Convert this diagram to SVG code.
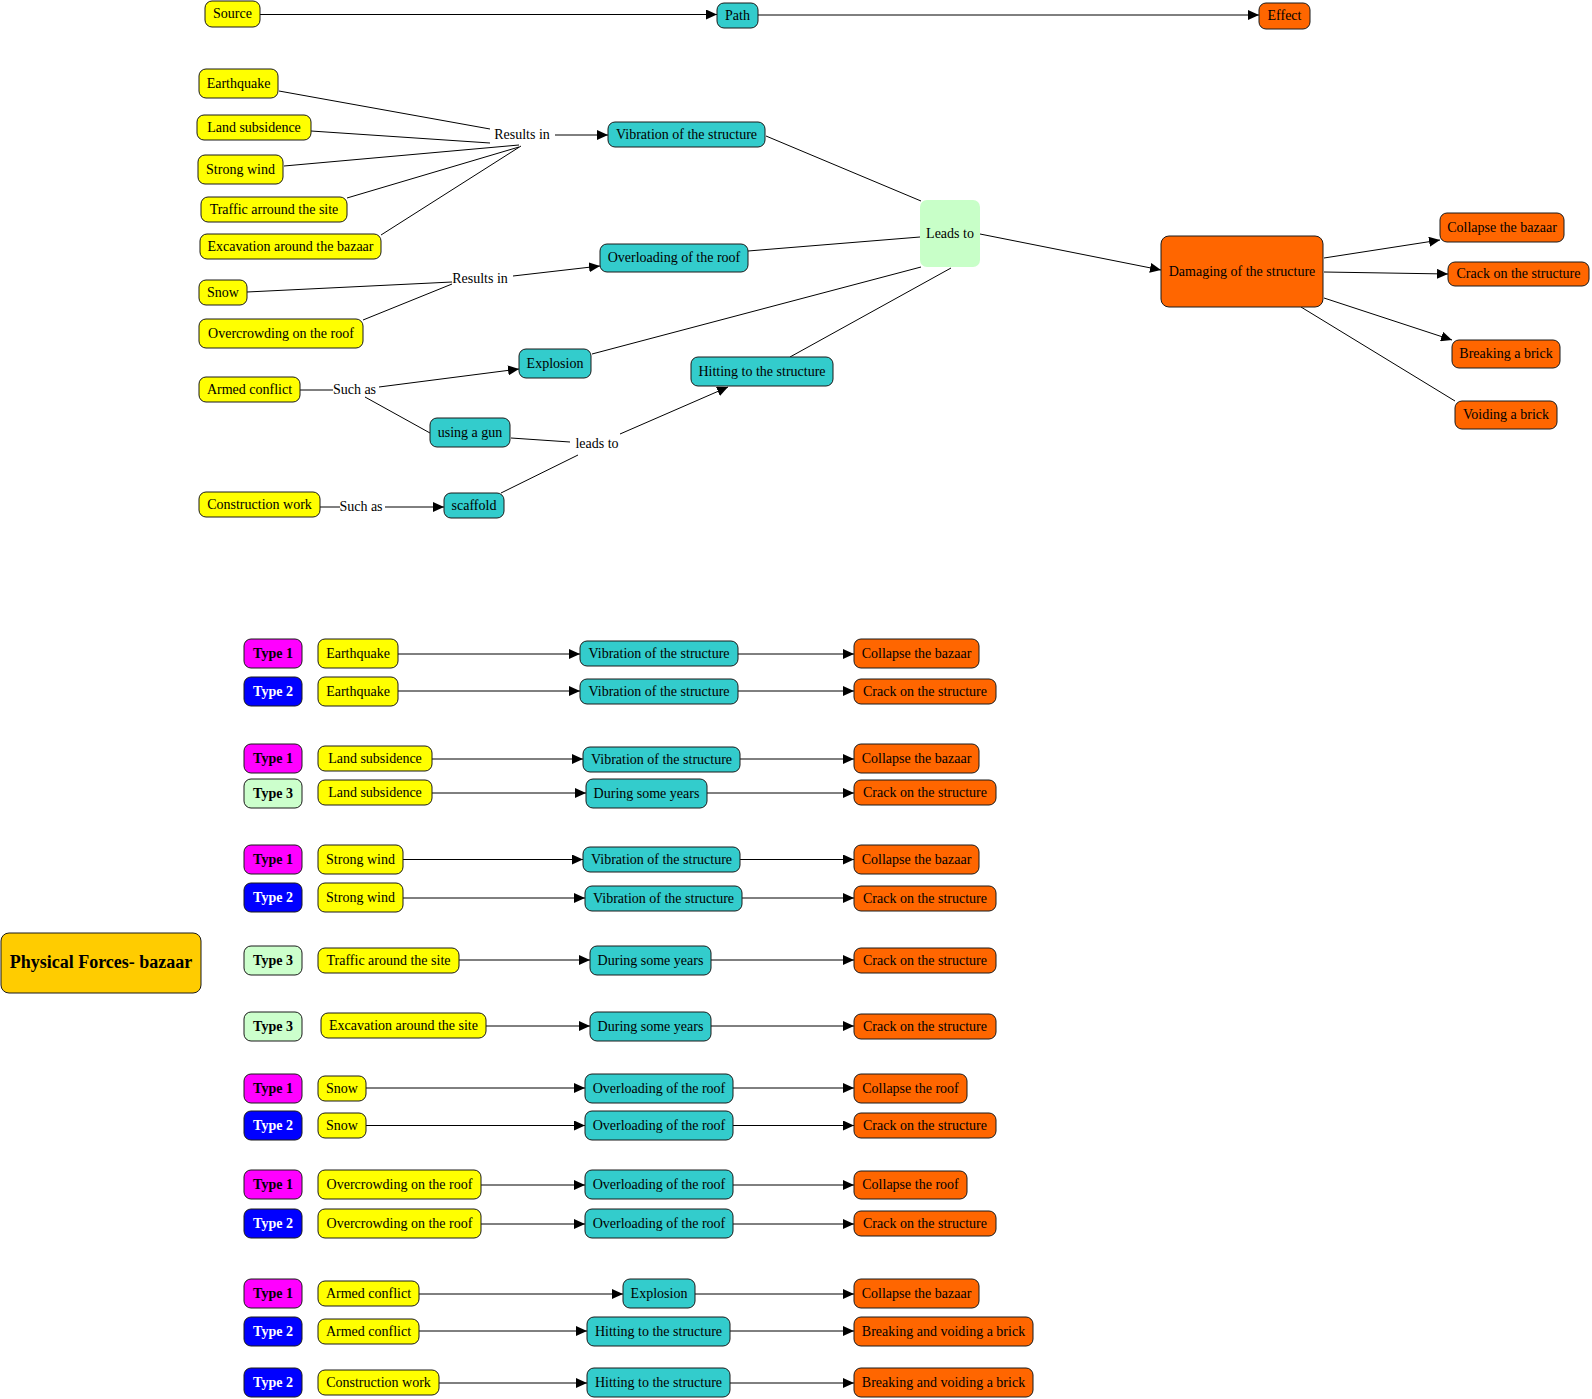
<svg xmlns="http://www.w3.org/2000/svg" width="1592" height="1399" viewBox="0 0 1592 1399">
<style>
rect{stroke:#1a1a1a;stroke-width:1}
rect.bg{fill:#fff;stroke:none}
.y{fill:#FFFF00}.t{fill:#33CCCC}.o{fill:#FF6600}.m{fill:#FF00FF}.b{fill:#0000FF}.g{fill:#CCFFCC}.pf{fill:#FFCC00}
.lg{fill:#C8FFC8;stroke:none}
text{font-family:"Liberation Serif","Times New Roman",serif;font-size:14px;text-anchor:middle;fill:#000;transform:translate(0px,-1px)}
.bd{font-weight:bold}.w{fill:#fff}.big{font-size:18px;font-weight:bold}
#connectors line{stroke:#000;stroke-width:1;fill:none}
#connectors .a{marker-end:url(#arr)}
</style>
<defs>
<marker id="arr" markerUnits="userSpaceOnUse" markerWidth="11" markerHeight="10" refX="11" refY="5" orient="auto"><path d="M0,0 L11,5 L0,10 z" fill="#000"/></marker>
</defs>
<rect class="bg" x="0" y="0" width="1592" height="1399"/>
<g id="connectors">
<line class="a" x1="260" y1="14.5" x2="717" y2="14.5"/>
<line class="a" x1="758" y1="15" x2="1259" y2="15"/>
<line x1="279" y1="91" x2="490" y2="129"/>
<line x1="311" y1="131" x2="490" y2="143"/>
<line x1="284" y1="166" x2="519" y2="145"/>
<line x1="347" y1="198" x2="519" y2="147"/>
<line x1="381" y1="235" x2="521" y2="146"/>
<line class="a" x1="555" y1="135" x2="608" y2="135"/>
<line x1="766" y1="136" x2="921" y2="201"/>
<line x1="247" y1="292" x2="452" y2="282"/>
<line x1="363" y1="320" x2="452" y2="284"/>
<line class="a" x1="513" y1="276" x2="600" y2="266"/>
<line x1="748" y1="251" x2="920" y2="237"/>
<line x1="300" y1="390" x2="333" y2="390"/>
<line class="a" x1="379" y1="387" x2="519" y2="369"/>
<line x1="365" y1="397" x2="430" y2="433"/>
<line x1="511" y1="438" x2="570" y2="442"/>
<line class="a" x1="620" y1="434" x2="728" y2="387"/>
<line x1="501" y1="493" x2="578" y2="455"/>
<line x1="320" y1="507" x2="340" y2="507"/>
<line class="a" x1="385" y1="507" x2="444" y2="507"/>
<line x1="592" y1="354" x2="921" y2="267"/>
<line x1="790" y1="357" x2="951" y2="268"/>
<line class="a" x1="980" y1="234" x2="1161" y2="270"/>
<line class="a" x1="1324" y1="258" x2="1440" y2="240"/>
<line class="a" x1="1324" y1="272" x2="1448" y2="274"/>
<line class="a" x1="1324" y1="298" x2="1452" y2="340"/>
<line x1="1301" y1="307" x2="1455" y2="401"/>
<line class="a" x1="398" y1="654" x2="580" y2="654"/><line class="a" x1="738" y1="654" x2="854" y2="654"/>
<line class="a" x1="398" y1="691" x2="580" y2="691"/><line class="a" x1="738" y1="691" x2="854" y2="691"/>
<line class="a" x1="432" y1="759" x2="583" y2="759"/><line class="a" x1="740" y1="759" x2="854" y2="759"/>
<line class="a" x1="432" y1="793" x2="586" y2="793"/><line class="a" x1="707" y1="793" x2="854" y2="793"/>
<line class="a" x1="403" y1="859.5" x2="583" y2="859.5"/><line class="a" x1="740" y1="859.5" x2="854" y2="859.5"/>
<line class="a" x1="403" y1="898" x2="585" y2="898"/><line class="a" x1="742" y1="898" x2="854" y2="898"/>
<line class="a" x1="459" y1="960" x2="590" y2="960"/><line class="a" x1="711" y1="960" x2="854" y2="960"/>
<line class="a" x1="486" y1="1026" x2="590" y2="1026"/><line class="a" x1="711" y1="1026" x2="854" y2="1026"/>
<line class="a" x1="366" y1="1088" x2="585" y2="1088"/><line class="a" x1="733" y1="1088" x2="854" y2="1088"/>
<line class="a" x1="366" y1="1125.5" x2="585" y2="1125.5"/><line class="a" x1="733" y1="1125.5" x2="854" y2="1125.5"/>
<line class="a" x1="481" y1="1185" x2="585" y2="1185"/><line class="a" x1="733" y1="1185" x2="854" y2="1185"/>
<line class="a" x1="481" y1="1224" x2="585" y2="1224"/><line class="a" x1="733" y1="1224" x2="854" y2="1224"/>
<line class="a" x1="419" y1="1294" x2="623" y2="1294"/><line class="a" x1="695" y1="1294" x2="854" y2="1294"/>
<line class="a" x1="419" y1="1331" x2="587" y2="1331"/><line class="a" x1="730" y1="1331" x2="854" y2="1331"/>
<line class="a" x1="439" y1="1383" x2="587" y2="1383"/><line class="a" x1="730" y1="1383" x2="854" y2="1383"/>
</g>
<g id="labels">
<text x="522" y="140">Results in</text>
<text x="480" y="284">Results in</text>
<text x="354.5" y="395">Such as</text>
<text x="597" y="449">leads to</text>
<text x="361" y="512">Such as</text>
</g>
<g id="n-source"><rect class="y" x="205" y="1" width="55" height="26" rx="7"/><text x="232.5" y="19">Source</text></g>
<g id="n-path"><rect class="t" x="717" y="3" width="41" height="25" rx="7"/><text x="737.5" y="20.5">Path</text></g>
<g id="n-effect"><rect class="o" x="1259" y="3" width="51" height="26" rx="7"/><text x="1284.5" y="21">Effect</text></g>
<g id="n-earthquake"><rect class="y" x="199" y="69" width="79" height="29" rx="7"/><text x="238.5" y="88.5">Earthquake</text></g>
<g id="n-landsub"><rect class="y" x="197" y="115" width="114" height="25" rx="7"/><text x="254" y="132.5">Land subsidence</text></g>
<g id="n-strongwind"><rect class="y" x="198" y="155" width="85" height="29" rx="7"/><text x="240.5" y="174.5">Strong wind</text></g>
<g id="n-traffic"><rect class="y" x="201" y="197" width="146" height="25" rx="7"/><text x="274" y="214.5">Traffic arround the site</text></g>
<g id="n-excavation"><rect class="y" x="200" y="234" width="181" height="25" rx="7"/><text x="290.5" y="251.5">Excavation around the bazaar</text></g>
<g id="n-vibration"><rect class="t" x="608" y="122" width="157" height="25" rx="7"/><text x="686.5" y="139.5">Vibration of the structure</text></g>
<g id="n-snow"><rect class="y" x="199" y="280" width="48" height="25" rx="7"/><text x="223" y="297.5">Snow</text></g>
<g id="n-overcrowding"><rect class="y" x="199" y="319" width="164" height="29" rx="7"/><text x="281" y="338.5">Overcrowding on the roof</text></g>
<g id="n-overloading"><rect class="t" x="600" y="244" width="148" height="28" rx="7"/><text x="674" y="263">Overloading of the roof</text></g>
<g id="n-armed"><rect class="y" x="199" y="377" width="101" height="25" rx="7"/><text x="249.5" y="394.5">Armed conflict</text></g>
<g id="n-explosion"><rect class="t" x="519" y="349" width="72" height="29" rx="7"/><text x="555" y="368.5">Explosion</text></g>
<g id="n-gun"><rect class="t" x="430" y="418" width="80" height="29" rx="7"/><text x="470" y="437.5">using a gun</text></g>
<g id="n-hitting"><rect class="t" x="691" y="357" width="142" height="29" rx="7"/><text x="762" y="376.5">Hitting to the structure</text></g>
<g id="n-construction"><rect class="y" x="199" y="492" width="121" height="25" rx="7"/><text x="259.5" y="509.5">Construction work</text></g>
<g id="n-scaffold"><rect class="t" x="444" y="493" width="60" height="25" rx="7"/><text x="474" y="510.5">scaffold</text></g>
<g id="n-leads"><rect class="lg" x="920" y="200" width="60" height="67" rx="7"/><text x="950" y="238.5">Leads to</text></g>
<g id="n-damaging"><rect class="o" x="1161" y="236" width="162" height="71" rx="8"/><text x="1242" y="276.5">Damaging of the structure</text></g>
<g id="n-collapse"><rect class="o" x="1440" y="213" width="124" height="29" rx="7"/><text x="1502" y="232.5">Collapse the bazaar</text></g>
<g id="n-crack"><rect class="o" x="1448" y="262" width="141" height="24" rx="7"/><text x="1518.5" y="279">Crack on the structure</text></g>
<g id="n-breaking"><rect class="o" x="1452" y="340" width="108" height="28" rx="7"/><text x="1506" y="359">Breaking a brick</text></g>
<g id="n-voiding"><rect class="o" x="1455" y="401" width="102" height="28" rx="7"/><text x="1506" y="420">Voiding a brick</text></g>
<g id="n-physical"><rect class="pf" x="1" y="933" width="200" height="60" rx="8"/><text class="big" x="101" y="969">Physical Forces- bazaar</text></g>
<g id="r1-type"><rect class="m" x="244" y="639" width="58" height="29" rx="7"/><text class="bd" x="273" y="658.5">Type 1</text></g>
<g id="r1-src"><rect class="y" x="318" y="639" width="80" height="29" rx="7"/><text x="358" y="658.5">Earthquake</text></g>
<g id="r1-path"><rect class="t" x="580" y="641" width="158" height="25" rx="7"/><text x="659" y="658.5">Vibration of the structure</text></g>
<g id="r1-eff"><rect class="o" x="854" y="639" width="125" height="29" rx="7"/><text x="916.5" y="658.5">Collapse the bazaar</text></g>
<g id="r2-type"><rect class="b" x="244" y="677" width="58" height="29" rx="7"/><text class="bd w" x="273" y="696.5">Type 2</text></g>
<g id="r2-src"><rect class="y" x="318" y="677" width="80" height="29" rx="7"/><text x="358" y="696.5">Earthquake</text></g>
<g id="r2-path"><rect class="t" x="580" y="679" width="158" height="25" rx="7"/><text x="659" y="696.5">Vibration of the structure</text></g>
<g id="r2-eff"><rect class="o" x="854" y="679" width="142" height="25" rx="7"/><text x="925" y="696.5">Crack on the structure</text></g>
<g id="r3-type"><rect class="m" x="244" y="744" width="58" height="29" rx="7"/><text class="bd" x="273" y="763.5">Type 1</text></g>
<g id="r3-src"><rect class="y" x="318" y="746" width="114" height="25" rx="7"/><text x="375" y="763.5">Land subsidence</text></g>
<g id="r3-path"><rect class="t" x="583" y="747" width="157" height="25" rx="7"/><text x="661.5" y="764.5">Vibration of the structure</text></g>
<g id="r3-eff"><rect class="o" x="854" y="744" width="125" height="29" rx="7"/><text x="916.5" y="763.5">Collapse the bazaar</text></g>
<g id="r4-type"><rect class="g" x="244" y="779" width="58" height="29" rx="7"/><text class="bd" x="273" y="798.5">Type 3</text></g>
<g id="r4-src"><rect class="y" x="318" y="780" width="114" height="25" rx="7"/><text x="375" y="797.5">Land subsidence</text></g>
<g id="r4-path"><rect class="t" x="586" y="779" width="121" height="29" rx="7"/><text x="646.5" y="798.5">During some years</text></g>
<g id="r4-eff"><rect class="o" x="854" y="780" width="142" height="25" rx="7"/><text x="925" y="797.5">Crack on the structure</text></g>
<g id="r5-type"><rect class="m" x="244" y="845" width="58" height="29" rx="7"/><text class="bd" x="273" y="864.5">Type 1</text></g>
<g id="r5-src"><rect class="y" x="318" y="845" width="85" height="29" rx="7"/><text x="360.5" y="864.5">Strong wind</text></g>
<g id="r5-path"><rect class="t" x="583" y="847" width="157" height="25" rx="7"/><text x="661.5" y="864.5">Vibration of the structure</text></g>
<g id="r5-eff"><rect class="o" x="854" y="845" width="125" height="29" rx="7"/><text x="916.5" y="864.5">Collapse the bazaar</text></g>
<g id="r6-type"><rect class="b" x="244" y="883" width="58" height="29" rx="7"/><text class="bd w" x="273" y="902.5">Type 2</text></g>
<g id="r6-src"><rect class="y" x="318" y="883" width="85" height="29" rx="7"/><text x="360.5" y="902.5">Strong wind</text></g>
<g id="r6-path"><rect class="t" x="585" y="886" width="157" height="25" rx="7"/><text x="663.5" y="903.5">Vibration of the structure</text></g>
<g id="r6-eff"><rect class="o" x="854" y="886" width="142" height="25" rx="7"/><text x="925" y="903.5">Crack on the structure</text></g>
<g id="r7-type"><rect class="g" x="244" y="946" width="58" height="29" rx="7"/><text class="bd" x="273" y="965.5">Type 3</text></g>
<g id="r7-src"><rect class="y" x="318" y="948" width="141" height="25" rx="7"/><text x="388.5" y="965.5">Traffic around the site</text></g>
<g id="r7-path"><rect class="t" x="590" y="946" width="121" height="29" rx="7"/><text x="650.5" y="965.5">During some years</text></g>
<g id="r7-eff"><rect class="o" x="854" y="948" width="142" height="25" rx="7"/><text x="925" y="965.5">Crack on the structure</text></g>
<g id="r8-type"><rect class="g" x="244" y="1012" width="58" height="29" rx="7"/><text class="bd" x="273" y="1031.5">Type 3</text></g>
<g id="r8-src"><rect class="y" x="321" y="1013" width="165" height="25" rx="7"/><text x="403.5" y="1030.5">Excavation around the site</text></g>
<g id="r8-path"><rect class="t" x="590" y="1012" width="121" height="29" rx="7"/><text x="650.5" y="1031.5">During some years</text></g>
<g id="r8-eff"><rect class="o" x="854" y="1014" width="142" height="25" rx="7"/><text x="925" y="1031.5">Crack on the structure</text></g>
<g id="r9-type"><rect class="m" x="244" y="1074" width="58" height="29" rx="7"/><text class="bd" x="273" y="1093.5">Type 1</text></g>
<g id="r9-src"><rect class="y" x="318" y="1076" width="48" height="25" rx="7"/><text x="342" y="1093.5">Snow</text></g>
<g id="r9-path"><rect class="t" x="585" y="1074" width="148" height="29" rx="7"/><text x="659" y="1093.5">Overloading of the roof</text></g>
<g id="r9-eff"><rect class="o" x="854" y="1074" width="113" height="29" rx="7"/><text x="910.5" y="1093.5">Collapse the roof</text></g>
<g id="r10-type"><rect class="b" x="244" y="1111" width="58" height="29" rx="7"/><text class="bd w" x="273" y="1130.5">Type 2</text></g>
<g id="r10-src"><rect class="y" x="318" y="1113" width="48" height="25" rx="7"/><text x="342" y="1130.5">Snow</text></g>
<g id="r10-path"><rect class="t" x="585" y="1111" width="148" height="29" rx="7"/><text x="659" y="1130.5">Overloading of the roof</text></g>
<g id="r10-eff"><rect class="o" x="854" y="1113" width="142" height="25" rx="7"/><text x="925" y="1130.5">Crack on the structure</text></g>
<g id="r11-type"><rect class="m" x="244" y="1170" width="58" height="29" rx="7"/><text class="bd" x="273" y="1189.5">Type 1</text></g>
<g id="r11-src"><rect class="y" x="318" y="1170" width="163" height="29" rx="7"/><text x="399.5" y="1189.5">Overcrowding on the roof</text></g>
<g id="r11-path"><rect class="t" x="585" y="1170" width="148" height="29" rx="7"/><text x="659" y="1189.5">Overloading of the roof</text></g>
<g id="r11-eff"><rect class="o" x="854" y="1171" width="113" height="28" rx="7"/><text x="910.5" y="1190">Collapse the roof</text></g>
<g id="r12-type"><rect class="b" x="244" y="1209" width="58" height="29" rx="7"/><text class="bd w" x="273" y="1228.5">Type 2</text></g>
<g id="r12-src"><rect class="y" x="318" y="1209" width="163" height="29" rx="7"/><text x="399.5" y="1228.5">Overcrowding on the roof</text></g>
<g id="r12-path"><rect class="t" x="585" y="1209" width="148" height="29" rx="7"/><text x="659" y="1228.5">Overloading of the roof</text></g>
<g id="r12-eff"><rect class="o" x="854" y="1211" width="142" height="25" rx="7"/><text x="925" y="1228.5">Crack on the structure</text></g>
<g id="r13-type"><rect class="m" x="244" y="1279" width="58" height="29" rx="7"/><text class="bd" x="273" y="1298.5">Type 1</text></g>
<g id="r13-src"><rect class="y" x="318" y="1281" width="101" height="25" rx="7"/><text x="368.5" y="1298.5">Armed conflict</text></g>
<g id="r13-path"><rect class="t" x="623" y="1279" width="72" height="29" rx="7"/><text x="659" y="1298.5">Explosion</text></g>
<g id="r13-eff"><rect class="o" x="854" y="1279" width="125" height="29" rx="7"/><text x="916.5" y="1298.5">Collapse the bazaar</text></g>
<g id="r14-type"><rect class="b" x="244" y="1317" width="58" height="29" rx="7"/><text class="bd w" x="273" y="1336.5">Type 2</text></g>
<g id="r14-src"><rect class="y" x="318" y="1319" width="101" height="25" rx="7"/><text x="368.5" y="1336.5">Armed conflict</text></g>
<g id="r14-path"><rect class="t" x="587" y="1317" width="143" height="29" rx="7"/><text x="658.5" y="1336.5">Hitting to the structure</text></g>
<g id="r14-eff"><rect class="o" x="854" y="1317" width="179" height="29" rx="7"/><text x="943.5" y="1336.5">Breaking and voiding a brick</text></g>
<g id="r15-type"><rect class="b" x="244" y="1368" width="58" height="29" rx="7"/><text class="bd w" x="273" y="1387.5">Type 2</text></g>
<g id="r15-src"><rect class="y" x="318" y="1370" width="121" height="25" rx="7"/><text x="378.5" y="1387.5">Construction work</text></g>
<g id="r15-path"><rect class="t" x="587" y="1368" width="143" height="29" rx="7"/><text x="658.5" y="1387.5">Hitting to the structure</text></g>
<g id="r15-eff"><rect class="o" x="854" y="1368" width="179" height="29" rx="7"/><text x="943.5" y="1387.5">Breaking and voiding a brick</text></g>
</svg>
